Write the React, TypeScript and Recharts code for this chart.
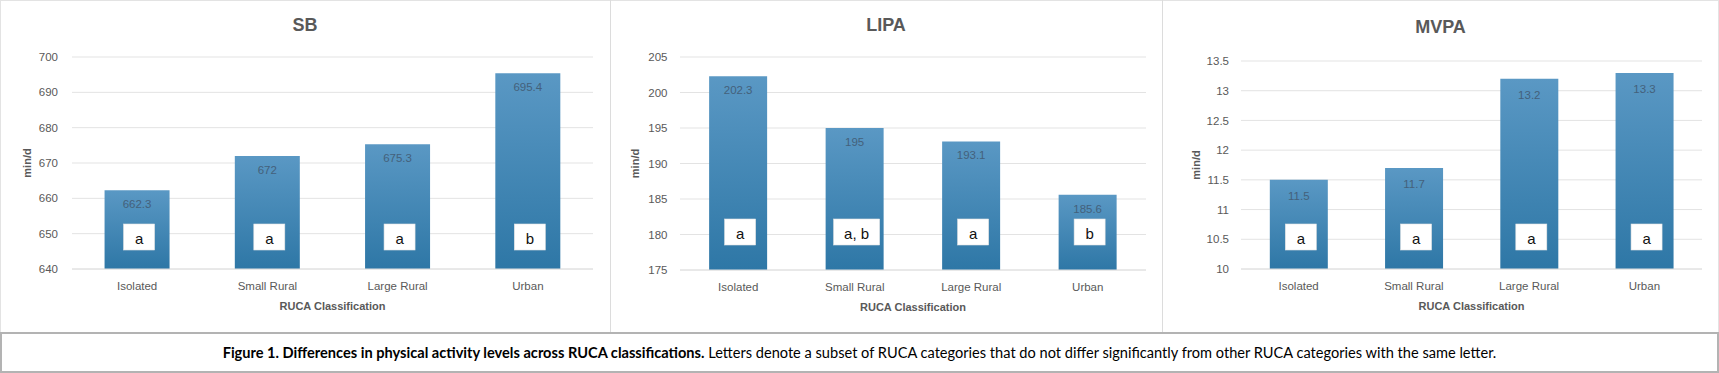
import React from "react";
import { BarChart, Bar, XAxis, YAxis, CartesianGrid, LabelList, Label } from "recharts";

const categories = ["Isolated", "Small Rural", "Large Rural", "Urban"];

const sbValues = [662.3, 672, 675.3, 695.4];
const lipaValues = [202.3, 195, 193.1, 185.6];
const mvpaValues = [11.5, 11.7, 13.2, 13.3];

const sbLetters = ["a", "a", "a", "b"];
const lipaLetters = ["a", "a, b", "a", "b"];
const mvpaLetters = ["a", "a", "a", "a"];

const sbTicks = [640, 650, 660, 670, 680, 690, 700];
const lipaTicks = [175, 180, 185, 190, 195, 200, 205];
const mvpaTicks = [10, 10.5, 11, 11.5, 12, 12.5, 13, 13.5];

const FONT = "'Liberation Sans', Arial, sans-serif";
const GREY = "#595959";
const CHART_H = 333;

interface PanelProps {
  id: string;
  title: string;
  values: number[];
  letters: string[];
  ticks: number[];
  left: number;
  width: number;
  plotLeft: number;
  plotRight: number;
  plotTop: number;
  plotBottom: number;
  tickGap: number;
  titleY: number;
  boxRise: number;
  valueDrop: number;
}

const Panel: React.FC<PanelProps> = (p) => {
  const data = categories.map((c, i) => ({ name: c, value: p.values[i], letter: p.letters[i] }));
  const xAxisH = CHART_H - p.plotBottom;

  const valueLabel = (props: any) => {
    const { x, y, width, value } = props;
    return (
      <text
        x={x + width / 2}
        y={y + p.valueDrop}
        textAnchor="middle"
        dominantBaseline="central"
        fill="#44617b"
        fontSize={11.5}
        fontFamily={FONT}
      >
        {value}
      </text>
    );
  };

  const letterBox = (props: any) => {
    const { x, y, width, height, value } = props;
    const s = String(value);
    const w = Math.max(31, 14 + s.length * 8);
    const h = 26;
    const cx = x + width / 2 + 2;
    const cy = y + height - p.boxRise;
    return (
      <g>
        <rect x={cx - w / 2} y={cy - h / 2} width={w} height={h} fill="#ffffff" stroke="#e4e4e4" strokeWidth={0.6} />
        <text x={cx} y={cy + 1} textAnchor="middle" dominantBaseline="central" fill="#111" fontSize={15} fontFamily={FONT}>
          {s}
        </text>
      </g>
    );
  };

  const catTick = (props: any) => {
    const { x, payload } = props;
    return (
      <text x={x} y={p.plotBottom + 17} textAnchor="middle" dominantBaseline="central" fill={GREY} fontSize={11.5} fontFamily={FONT}>
        {payload.value}
      </text>
    );
  };

  return (
    <div style={{ position: "absolute", left: p.left, top: 0, width: p.width, height: CHART_H }}>
      <div
        style={{
          position: "absolute",
          left: 0,
          width: p.width,
          top: p.titleY - 12,
          height: 24,
          lineHeight: "24px",
          textAlign: "center",
          fontFamily: FONT,
          fontWeight: 700,
          fontSize: 18,
          color: GREY,
        }}
      >
        {p.title}
      </div>
      <BarChart
        width={p.width}
        height={CHART_H}
        data={data}
        margin={{ top: p.plotTop, right: p.width - p.plotRight, left: 0, bottom: 0 }}
        barCategoryGap="25%"
      >
        <defs>
          <linearGradient id={`grad-${p.id}`} x1="0" y1="0" x2="0" y2="1">
            <stop offset="0%" stopColor="#5a98c4" />
            <stop offset="100%" stopColor="#2e77a6" />
          </linearGradient>
        </defs>
        <CartesianGrid horizontal vertical={false} stroke="#e3e3e3" />
        <XAxis
          dataKey="name"
          height={xAxisH}
          axisLine={{ stroke: "#e0e0e0" }}
          tickLine={false}
          tick={catTick}
          interval={0}
        >
          <Label
            content={(lp: any) => {
              const vb = lp.viewBox;
              return (
                <text
                  x={vb.x + vb.width / 2}
                  y={p.plotBottom + 37}
                  textAnchor="middle"
                  dominantBaseline="central"
                  fill={GREY}
                  fontSize={11}
                  fontWeight={700}
                  fontFamily={FONT}
                >
                  RUCA Classification
                </text>
              );
            }}
          />
        </XAxis>
        <YAxis
          width={p.plotLeft}
          domain={[p.ticks[0], p.ticks[p.ticks.length - 1]]}
          ticks={p.ticks}
          interval={0}
          axisLine={false}
          tickLine={false}
          tickSize={0}
          tickMargin={p.tickGap}
          tick={{ fill: GREY, fontSize: 11.5, fontFamily: FONT }}
        >
          <Label
            content={(lp: any) => {
              const vb = lp.viewBox;
              const cy = vb.y + vb.height / 2;
              const cx = p.plotLeft - 45;
              return (
                <text
                  x={cx}
                  y={cy}
                  transform={`rotate(-90 ${cx} ${cy})`}
                  textAnchor="middle"
                  dominantBaseline="central"
                  fill={GREY}
                  fontSize={11}
                  fontWeight={700}
                  fontFamily={FONT}
                >
                  min/d
                </text>
              );
            }}
          />
        </YAxis>
        <Bar dataKey="value" fill={`url(#grad-${p.id})`} isAnimationActive={false}>
          <LabelList dataKey="value" content={valueLabel} />
          <LabelList dataKey="letter" content={letterBox} />
        </Bar>
      </BarChart>
    </div>
  );
};

export default function App() {
  return (
    <div style={{ position: "absolute", left: 0, top: 0, width: 1719, height: 373, background: "#fff", overflow: "hidden" }}>
      <Panel
        id="sb"
        title="SB"
        values={sbValues}
        letters={sbLetters}
        ticks={sbTicks}
        left={0}
        width={610}
        plotLeft={72}
        plotRight={593}
        plotTop={57}
        plotBottom={269}
        tickGap={14}
        titleY={25}
        boxRise={32}
        valueDrop={14}
      />
      <Panel
        id="lipa"
        title="LIPA"
        values={lipaValues}
        letters={lipaLetters}
        ticks={lipaTicks}
        left={610}
        width={552}
        plotLeft={70}
        plotRight={536}
        plotTop={57}
        plotBottom={270}
        tickGap={12.5}
        titleY={25}
        boxRise={38}
        valueDrop={14}
      />
      <Panel
        id="mvpa"
        title="MVPA"
        values={mvpaValues}
        letters={mvpaLetters}
        ticks={mvpaTicks}
        left={1162}
        width={557}
        plotLeft={79}
        plotRight={540}
        plotTop={61}
        plotBottom={269}
        tickGap={12}
        titleY={27}
        boxRise={32}
        valueDrop={16}
      />
      <div style={{ position: "absolute", left: 0, top: 0, width: 1719, height: 333, boxSizing: "border-box", border: "1px solid #e3e3e3", pointerEvents: "none" }} />
      <div style={{ position: "absolute", left: 610, top: 0, width: 1, height: 333, background: "#dcdcdc" }} />
      <div style={{ position: "absolute", left: 1162, top: 0, width: 1, height: 333, background: "#dcdcdc" }} />
      <div
        style={{
          position: "absolute",
          left: 0,
          top: 332,
          width: 1719,
          height: 41,
          boxSizing: "border-box",
          border: "2px solid #b3b3b3",
          display: "flex",
          alignItems: "center",
          justifyContent: "center",
          fontFamily: "Lato, sans-serif",
          fontSize: 14.6,
          color: "#000",
          whiteSpace: "nowrap",
        }}
      >
        <span>
          <b>Figure 1. Differences in physical activity levels across RUCA classifications.</b> Letters denote a subset of RUCA
          categories that do not differ significantly from other RUCA categories with the same letter.
        </span>
      </div>
    </div>
  );
}
